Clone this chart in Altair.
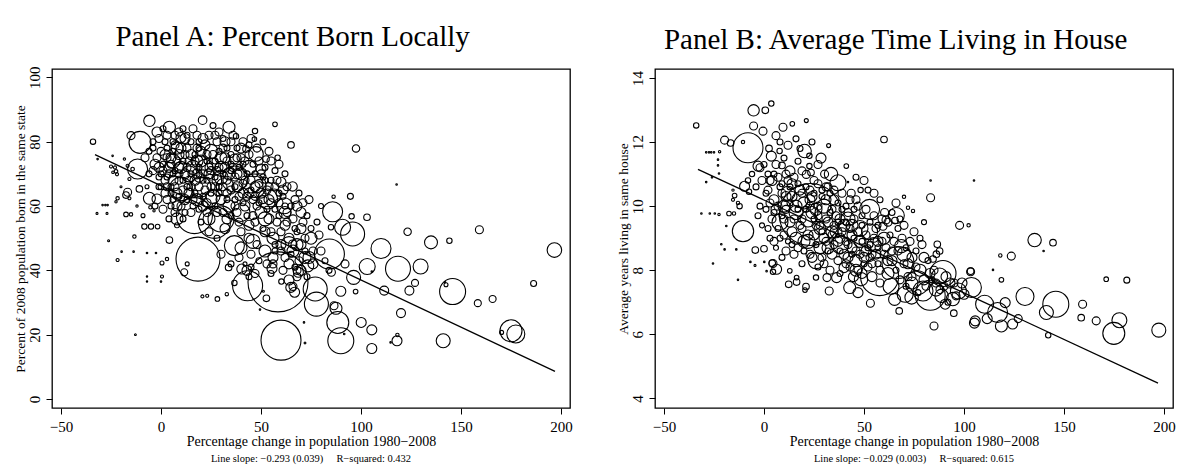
import altair as alt
import pandas as pd

# ---- Panel A: share of 2008 population born in the same state ----
growth_a = [
    -34, -32, -27, -29.2, -27.8, -26.7, -26.2, -21.7, -19.7, -13.7,
    -7, -2.5, -13.3, -31.7, -24.2, -25, -23, -22.5, -24, -22,
    -17.5, -21.7, -22.5, -15.8, -18.3, -16.7, -14.2, -15.8, -17.5, -15,
    -8.3, -5, -1.7, 4.2, 3, -5.3, -3.5, -10.8, -16.7, -12.8,
    -7, -7, 0, 0.5, 0.5, 11.6, 13.1, -20, -12, -9,
    -11.7, -10.5, -5.8, 4.2, 10, -15, -2, -2, -5.8, -8,
    -6, -3, 0, 2, 5, 8, 12, 15, 18, 20.8,
    22, 25, 28, 30, 33, 34, 37.5, 42.5, 47.5, 40,
    47, 46.7, 57, 58.3, 65, 65.8, 36.7, 52.5, 50, 60,
    56.7, 53.3, 61.7, 46.7, 36.7, 10, 16.7, 30, 36.7, 18.5,
    26.7, 0, 2, 4, 6, 8, 10, 12, 14, 16,
    18, 20, 22, 24, 26, 28, 30, 32, 34, 36,
    38, 40, 42, 44, 46, 48, 50, 52, 54, 2,
    6, 10, 14, 18, 22, 26, 30, 34, 38, 42,
    46, 50, 54, 58, 62, 66, 70, 72, 68, 64,
    60, 4, 8, 12, 20, 24, 28, 32, 40, 44,
    48, 52, 56, 60, 64, 68, 72, 76, 80, 84,
    43, 45, 47, 44, 42, 55, 56, 64, 66, 67,
    70, 68, 5, 9, 13, 17, 21, 25, 29, 33,
    37, 41, 15, 19, 23, 27, 31, 35, 7, 11,
    3, -4, -7, -1, 8, 16, 58.5, 60, 20.7, 23.1,
    28.2, 32.9, 33.8, 36.7, 43.3, 40.4, 55.5, 51.2, 52.7, 49.5,
    60.2, 64.9, 66.8, 68.7, 73.4, 71.5, 72, 77.1, 77.7, 85.2,
    86.5, 87.5, 88.4, 89.9, 89.9, 91.6, 96.3, 97.3, 100.1, 103.1,
    105.4, 105.4, 105.4, 111.6, 114.8, 118, 118.2, 118.5, 120, 124.2,
    127, 129.8, 141.1, 142, 142.5, 145.8, 158.4, 165.8, 170.3, 175,
    177.4, 186.3, 97.5, 117.8, 86.3, 94.7, 95.3, 103, 85.8, 90.8,
    95.8, 85, 123.3, 135, 144.2, 159.2, 196.7, 110, 84.2, 65.8,
    62, 70, 74, 68, 75, 78, 80, 72, 62, 57,
    92,
]
born_a = [
    80, 57.7, 57.7, 60.3, 60.3, 60.3, 49.2, 43.2, 45.8, 45.8,
    45.4, 45.4, 50.5, 74.6, 75.6, 72.3, 72, 70.8, 70.5, 69.9,
    63.4, 62.4, 61.3, 62.4, 74.6, 72.5, 71.5, 68.4, 57.4, 57.4,
    53.6, 53.6, 53.6, 49.4, 43.5, 59.6, 58.5, 65.3, 64.3, 20,
    38.1, 36.5, 36.5, 38.1, 42.3, 39.4, 42, 66, 60, 57,
    71.5, 79.8, 86.5, 84.5, 81.3, 81.9, 83, 62.2, 62.4, 75,
    70, 73, 77, 80, 75, 78, 76, 80, 82, 86.7,
    79, 77, 80, 75, 78, 84.5, 81.7, 77.7, 76.2, 75,
    83.3, 80.8, 85.4, 75, 79, 66.1, 74.6, 74.6, 71.5, 67.4,
    63.2, 62.2, 60.1, 66.3, 68.4, 65.3, 57, 56, 47.7, 43.5,
    54.9, 70, 68, 72, 70, 74, 72, 70, 74, 72,
    70, 74, 72, 70, 73, 71, 69, 72, 70, 72,
    66, 70, 68, 64, 62, 66, 64, 68, 66, 64,
    62, 60, 64, 62, 65, 63, 62, 60, 58, 60,
    57, 58, 56, 55, 54, 56, 53, 50, 48, 50,
    52, 56, 54, 58, 55, 52, 50, 53, 52, 50,
    48, 46, 44, 46, 42, 40, 44, 42, 46, 40,
    40, 41, 39, 38, 42, 39, 42, 37, 35, 41,
    40, 38, 66, 68, 66, 68, 68, 66, 66, 64,
    62, 64, 76, 78, 76, 74, 78, 76, 82, 84,
    78, 78, 66, 66, 60, 60, 36.4, 18.3, 31.9, 32.1,
    31.1, 32.6, 40.9, 36.1, 35.2, 40.4, 40.6, 33.5, 31.3, 27.8,
    36.5, 34.7, 33.2, 39.4, 41.4, 23.8, 17.4, 34.2, 29.5, 39.4,
    29, 28.2, 23.8, 18.1, 33.5, 20.2, 37.8, 33.4, 23.8, 41.2,
    21.5, 15.7, 39.6, 33.7, 17.6, 18.1, 19.9, 40.5, 26.7, 33.7,
    36.1, 41.2, 18.1, 36.3, 35.5, 33.4, 29.8, 31.1, 20.7, 21.2,
    20.2, 35.9, 77.9, 66.7, 62.9, 63, 56.8, 56.5, 58.2, 53.4,
    51.3, 53.4, 52, 48.7, 49.2, 52.6, 46.3, 46.8, 45.1, 48.2,
    60, 58, 62, 52, 50, 55, 60, 46, 44, 48,
    42,
]
# 2008 population weight (marker area is proportional to it)
pop_a = [
    7.3, 1, 1, 0.6, 0.6, 0.6, 1, 2.3, 0.6, 0.6,
    0.6, 0.6, 2.9, 0.6, 0.6, 2.3, 2.3, 3.2, 1.7, 2.3,
    10.9, 2.9, 1.4, 2.3, 1.4, 2.3, 3.2, 2.3, 5.3, 2.9,
    7.3, 7.3, 5.3, 10.9, 2.9, 2.9, 1.4, 10.9, 16, 0.8,
    0.5, 0.5, 0.6, 2.3, 4, 12.3, 4, 1, 1.4, 4,
    100, 121, 32.5, 36, 25, 16, 25, 25, 36, 16,
    9, 25, 16, 9, 25, 36, 16, 9, 16, 18.5,
    25, 49, 16, 36, 9, 36, 7.3, 10.9, 53.3, 16,
    7.3, 5.3, 5.3, 7.3, 10.9, 22, 25, 10.9, 25, 25,
    45, 100, 64, 137, 169, 137, 324, 169, 100, 484,
    256, 9, 16, 25, 9, 16, 36, 25, 16, 49,
    25, 36, 64, 25, 36, 16, 49, 25, 36, 16,
    25, 36, 16, 25, 16, 36, 25, 9, 16, 16,
    9, 16, 25, 36, 16, 49, 25, 36, 16, 25,
    16, 36, 25, 16, 25, 16, 25, 16, 36, 25,
    16, 9, 6.3, 9, 9, 16, 9, 25, 16, 25,
    16, 36, 25, 16, 25, 16, 36, 25, 16, 9,
    25, 9, 16, 9, 4, 9, 16, 25, 16, 9,
    25, 16, 9, 16, 9, 25, 9, 16, 9, 16,
    9, 25, 25, 9, 16, 9, 16, 9, 16, 9,
    9, 9, 4, 9, 25, 9, 900, 400, 2.3, 2.3,
    5.3, 2.9, 10.9, 7.3, 225, 25, 25, 1, 10.9, 0.6,
    7.3, 25, 25, 25, 36, 0.6, 0.8, 144, 144, 16,
    16, 36, 121, 169, 25, 0.6, 49, 5.3, 25, 64,
    25, 25, 0.6, 20, 0.6, 25, 2.9, 156, 20, 20,
    12.3, 56, 49, 0.6, 4, 169, 12.3, 12.3, 4, 121,
    81, 9, 13.7, 0.6, 2.9, 9, 7.3, 10.9, 100, 64,
    144, 7.3, 13.7, 42, 7.3, 16, 53, 100, 225, 16,
    9, 25, 16, 9, 36, 9, 6.3, 9, 16, 9,
    16,
]
# Counties in the crowded core of panel A
growth_a_core = [
    -4, -1, 1, 3, 6, 9, 13, 16, 19, 24,
    26, 29, 31, 35, 38, 41, 44, 48, 51, 54,
    -6, -2, 1, 3, 6, 9, 11, 13, 17, 20,
    23, 26, 29, 32, 35, 38, 41, 44, 46, 49,
    52, 55, 57, 59, 62, -4, -1, 1, 3, 5,
    7, 9, 11, 13, 15, 17, 19, 21, 23, 25,
    27, 29, 31, 33, 35, 37, 39, 41, 43, 45,
    47, 49, 51, 53, 55, 57, 59, 63, 0, 3,
    5, 7, 9, 11, 13, 15, 17, 19, 21, 23,
    25, 27, 29, 31, 33, 35, 37, 39, 41, 43,
    45, 47, 49, 51, 53, 55, 57, 59, 61, 63,
    65, 67, 69, 71, 73, -3, 1, 5, 7, 11,
    15, 19, 23, 27, 31, 35, 39, 43, 47, 51,
    55, 59, 63, 67, 71, 75, 79, 45, 49, 53,
    57, 61, 65, 69, 73, 76, 82, 39, 35, 30,
    14, 32, 44, 6, 24, 52, 40, 8, 64, 20,
    2, 7, 12, 18, 21, 27, 32, 36, 40, 45,
    -1, 4, 9, 14, 19, 24, 28, 33, 38, 42,
    47, 50, 54, 58, 61, 3, 8, 16, 21, 28,
    33, 37, 44, 48, 52, 56, 60, 66, 70, 74,
    46, 40, 62, 68, 24, 12, 6, 30, 18, 10,
]
born_a_core = [
    80, 81, 84, 82, 80, 83, 82, 84, 80, 82,
    85, 83, 81, 80, 78, 80, 79, 78, 80, 77,
    77, 75, 73, 75, 77, 76, 74, 78, 76, 77,
    74, 76, 77, 75, 73, 75, 73, 76, 73, 74,
    72, 74, 71, 73, 70, 71, 69, 71, 69, 73,
    71, 70, 68, 72, 70, 74, 72, 70, 68, 71,
    69, 72, 70, 68, 71, 69, 72, 67, 70, 68,
    70, 67, 69, 65, 68, 66, 64, 66, 66, 62,
    64, 66, 63, 65, 62, 66, 64, 66, 63, 61,
    64, 66, 64, 66, 62, 65, 66, 63, 61, 63,
    65, 63, 61, 62, 59, 61, 59, 61, 63, 58,
    60, 62, 64, 61, 57, 60, 59, 60, 58, 56,
    58, 59, 58, 60, 58, 57, 55, 57, 55, 53,
    52, 57, 55, 53, 55, 53, 51, 45, 43, 42,
    46, 40, 45, 43, 38, 46, 43, 44, 42, 45,
    70, 66, 72, 74, 62, 56, 58, 56, 48, 66,
    76, 79, 81, 78, 81, 82, 80, 82, 78, 81,
    72, 70, 72, 68, 69, 72, 68, 74, 70, 74,
    66, 70, 62, 68, 65, 66, 64, 62, 60, 58,
    56, 60, 54, 60, 52, 50, 48, 46, 48, 44,
    49, 47, 58, 60, 56, 62, 68, 72, 74, 78,
]
pop_a_core = [
    9, 16, 9, 16, 9, 16, 9, 16, 9, 16,
    9, 16, 9, 16, 9, 16, 9, 16, 9, 16,
    9, 16, 9, 16, 9, 25, 9, 16, 9, 25,
    9, 16, 9, 25, 9, 16, 9, 16, 9, 16,
    9, 16, 9, 16, 9, 16, 9, 16, 9, 16,
    9, 16, 9, 16, 9, 16, 9, 16, 9, 16,
    9, 16, 9, 16, 9, 16, 9, 16, 9, 16,
    9, 16, 9, 16, 9, 16, 9, 16, 9, 16,
    9, 16, 9, 16, 9, 16, 9, 16, 9, 16,
    9, 16, 9, 16, 9, 16, 9, 16, 9, 16,
    9, 16, 9, 16, 9, 16, 9, 16, 9, 16,
    9, 16, 9, 16, 9, 9, 16, 9, 16, 9,
    16, 9, 16, 9, 16, 9, 16, 9, 16, 9,
    16, 9, 16, 9, 16, 9, 16, 16, 9, 16,
    9, 16, 9, 16, 9, 16, 9, 16, 9, 16,
    64, 81, 49, 49, 64, 49, 81, 36, 64, 100,
    25, 16, 25, 16, 25, 16, 25, 16, 25, 16,
    25, 16, 25, 16, 25, 16, 25, 16, 25, 16,
    25, 16, 25, 16, 25, 16, 25, 16, 25, 16,
    25, 16, 25, 16, 25, 36, 25, 36, 25, 36,
    49, 36, 36, 25, 36, 25, 25, 36, 36, 25,
]

# ---- Panel B: average years living in the same house ----
growth_b = [
    -33.9, -5.2, 0.65, 3.65, -5.2, 9.5, 14.15, 21.15, -0.5, -19.7,
    -16.7, -10.5, -8, -28.9, -27.5, -26.4, -25, -22.2, -23, -23,
    -22.5, -26, -28.9, -31.3, -27.1, -24.6, -22.5, -17.5, -15, -10.5,
    -14.7, -13, -15.5, -15.5, -18.85, -21.35, -19.7, -13.85, -25.5, -6.8,
    -4.5, 0.15, 1.3, -13, 4.1, 4.5, 6.3, -4.35, 0, 4.5,
    -9.7, -8, -7.5, -12.2, -3, -6, 2.5, 3.65, 7.8, 9,
    20.3, 22.7, 22.7, 23.5, 23.15, 21.15, 27, 30.3, 32, 32.3,
    33.5, 37, 41.15, 42, 48.3, 43.6, 46, 52.8, 52.8, 60,
    83.3, 105, 70, 83.3, 72, 74.5, 66.15, 65.5, 97.8, 102.3,
    60.3, 61, 59.5, 135.3, 144.5, 139.8, 86.65, 87.8, 86.2, 84.5,
    89.5, 68.65, 67, 118.15, 123.65, 114.5, 103.3, 12.35, 16.3, 16.3,
    12.9, 21, 20.5, 26, 32.6, 31.5, 36.3, 40, 42.85, 44.7,
    47, 53.2, 48.5, 57.8, 63.5, 65.3, 67.6, 70.6, 73.8, 76.6,
    79.5, 83.1, 85, 87.8, 86, 88.8, 90.6, 94.9, 94.4, 97.2,
    100, 103.3, 103.7, 105.6, 105.2, 110.3, 111.6, 116.8, 118.7, 118.7,
    120.6, 124.3, 127.1, 130.5, 141.2, 142.1, 145.9, 159.3, 158.6, 166.1,
    171.1, 177.7, 174.9, 181.4, 197.4, 2, 5, 8, 10, 12,
    14, 16, 18, 20, 22, 24, 26, 28, 30, 32,
    34, 36, 38, 40, 42, 44, 46, 48, 50, 52,
    54, 4, 7, 10, 13, 16, 19, 22, 25, 28,
    31, 34, 37, 40, 43, 46, 49, 52, 56, 58,
    62, 64, 60, 56, 2, 6, 10, 13, 17, 25,
    29, 35, 39, 45, 49, 1, -2, -1, 3, 6,
    9, 12, 15, 19, 24, 27, 33, 38, 70, 74,
    78, 72, 80, 90, 93, 75, 78, 80, 11, 28.5,
]
years_b = [
    12.52, 12.99, 12.99, 13.2, 12.5, 12.46, 12.57, 12.67, 12.34, 12.06,
    11.97, 12.0, 11.82, 11.68, 11.68, 11.68, 11.68, 11.7, 11.45, 11.27,
    11.02, 10.9, 10.75, 9.77, 9.77, 9.77, 9.74, 9.77, 9.77, 9.22,
    10.33, 10.1, 10.2, 10.5, 9.38, 8.81, 8.65, 8.65, 8.21, 8.26,
    8.15, 8.26, 7.97, 7.7, 8.22, 7.95, 8.03, 8.63, 8.67, 8.21,
    10.62, 10.8, 10.45, 10.0, 11.25, 11.0, 11.8, 11.56, 11.72, 11.27,
    11.72, 11.57, 11.25, 11.05, 9.74, 10.99, 11.3, 11.0, 10.6, 11.89,
    11.0, 10.73, 11.25, 10.75, 10.5, 10.4, 10.2, 9.9, 9.2, 12.08,
    10.8, 10.8, 10.29, 10.26, 9.95, 9.85, 9.71, 9.55, 9.4, 9.4,
    9.8, 9.57, 9.37, 8.94, 8.86, 8.6, 8.81, 8.6, 8.5, 8.35,
    7.9, 8.75, 8.24, 8.46, 8.44, 8.01, 7.97, 7.56, 7.63, 7.77,
    7.98, 7.49, 7.38, 7.77, 7.35, 7.77, 7.77, 8.08, 7.46, 7.8,
    7.3, 6.97, 7.72, 7.8, 7.5, 7.09, 6.73, 7.25, 7.15, 7.61,
    7.35, 7.22, 6.26, 7.82, 7.4, 7.2, 6.94, 6.66, 7.1, 7.35,
    7.25, 7.95, 7.46, 6.42, 6.35, 6.94, 6.49, 6.68, 6.26, 7.7,
    6.99, 6.32, 6.49, 7.18, 6.68, 5.97, 6.94, 6.94, 6.52, 6.42,
    7.72, 6.44, 6.03, 7.69, 6.13, 10.5, 10.2, 10.6, 10.0, 10.8,
    10.3, 9.8, 10.5, 10.1, 9.6, 10.3, 9.9, 9.4, 10.0, 9.5,
    9.2, 9.7, 9.0, 9.4, 8.8, 9.1, 8.6, 8.9, 8.4, 8.7,
    8.2, 9.6, 9.3, 9.1, 9.5, 9.0, 9.3, 8.9, 9.1, 8.7,
    8.9, 8.5, 8.3, 8.5, 8.1, 8.3, 7.9, 8.1, 8.5, 8.0,
    8.3, 8.6, 9.0, 9.3, 11.0, 11.3, 11.5, 11.1, 11.4, 10.8,
    10.5, 10.2, 9.9, 9.6, 9.4, 9.9, 10.0, 9.4, 9.0, 8.7,
    8.4, 8.9, 8.5, 8.2, 8.4, 8.1, 8.0, 7.9, 8.2, 8.4,
    8.0, 7.8, 7.7, 7.5, 7.6, 9.2, 9.0, 9.5, 10.3, 11.5,
]
pop_b = [
    7.3, 32.5, 10.9, 7.3, 16, 16, 5.3, 4, 16, 16,
    10.9, 2.9, 225, 0.6, 0.6, 0.6, 0.6, 1.4, 0.6, 0.6,
    0.6, 0.6, 0.6, 0.6, 0.6, 0.6, 1.4, 5.3, 2.9, 114,
    5.3, 2.9, 2.3, 1.4, 0.6, 0.6, 0.6, 0.6, 0.6, 0.6,
    1, 0.6, 0.6, 0.6, 10.9, 7.3, 25, 10.9, 10.9, 16,
    25, 7.3, 7.3, 7.3, 25, 7.3, 10.9, 25, 7.3, 10.9,
    45, 7.3, 7.3, 10.9, 961, 16, 16, 16, 16, 4,
    45, 64, 5.3, 0.6, 7.3, 16, 16, 100, 64, 10.9,
    0.6, 0.6, 2.9, 16, 2.9, 2.9, 64, 10.9, 16, 2.9,
    16, 16, 16, 45, 10.9, 0.6, 10.9, 10.9, 10.9, 10.9,
    169, 45, 256, 2.9, 16, 0.6, 10.9, 10.9, 10.9, 5.3,
    5.3, 10.9, 5.3, 7.3, 16, 16, 25, 25, 36, 25,
    25, 16, 45, 361, 64, 36, 10.9, 64, 45, 144,
    100, 225, 16, 64, 45, 45, 25, 10.9, 45, 64,
    25, 16, 100, 25, 25, 81, 25, 100, 36, 5.3,
    25, 25, 16, 81, 49, 7.3, 169, 16, 10.9, 16,
    5.3, 56, 121, 9, 49, 16, 25, 9, 36, 16,
    25, 49, 25, 36, 64, 25, 36, 16, 49, 25,
    36, 16, 25, 36, 16, 25, 16, 36, 25, 9,
    16, 16, 9, 16, 25, 36, 16, 49, 25, 36,
    16, 25, 16, 25, 16, 36, 25, 16, 25, 16,
    25, 16, 36, 16, 9, 16, 9, 25, 9, 16,
    9, 25, 9, 16, 9, 9, 9, 6.3, 9, 6.3,
    9, 6.3, 16, 9, 25, 9, 16, 9, 16, 25,
    36, 16, 25, 16, 25, 16, 9, 6.3, 25, 25,
]
# Counties in the crowded core of panel B
growth_b_core = [
    0, 3, 5, 7, 9, 11, 13, 15, 17, 19,
    21, 23, 25, 27, 29, 31, 33, 35, 37, 39,
    41, 43, 45, 47, 49, 51, 53, 55, 57, 59,
    1, 3, 5, 7, 9, 11, 13, 15, 17, 19,
    21, 23, 25, 27, 29, 31, 33, 35, 37, 39,
    41, 43, 45, 47, 49, 51, 53, 55, 57, 59,
    2, 5, 8, 11, 14, 17, 20, 23, 26, 29,
    32, 35, 38, 41, 44, 47, 50, 53, 57, 61,
    63, 65, 67, 69, 71, 73, 76, 79, 82, 85,
    66, 68, 71, 74, 77, 81, 84, 88, 92, 95,
    62, 64, 66, 68, 70, 58, 55, 52, 50, 46,
    8, 12, 16, 6, 18, 24, -2, -4, -1, -3,
    8, 30, 42, 18, 38, 55, 26, 12, 48, 70,
    4, 9, 14, 19, 23, 27, 31, 34, 38, 42,
    6, 10, 14, 18, 22, 26, 30, 34, 37, 41,
    44, 48, 51, 54, 57, 60, 64, 67, 72, 76,
    20, 28, 36, 44, 16, 24, 32, 46, 54, 62,
    83, 86, 91, 96, 99, 74, 80, 58, 42, 30,
]
years_b_core = [
    11.3, 10.8, 11.0, 10.9, 10.7, 11.0, 10.6, 10.9, 10.7, 11.1,
    10.6, 10.5, 10.4, 10.7, 10.3, 10.6, 10.4, 10.5, 10.1, 10.4,
    10.0, 10.2, 9.9, 10.0, 9.7, 9.9, 9.5, 9.7, 9.4, 9.6,
    10.4, 10.1, 9.8, 10.0, 9.7, 9.9, 10.1, 9.6, 9.9, 9.6,
    9.9, 10.0, 9.6, 9.7, 9.2, 9.6, 9.8, 9.4, 9.5, 9.2,
    9.5, 9.3, 9.0, 9.2, 8.9, 9.1, 8.8, 9.0, 8.7, 8.9,
    9.3, 8.9, 9.0, 8.6, 8.8, 8.7, 8.6, 8.5, 8.8, 8.4,
    8.6, 8.8, 8.6, 8.2, 8.5, 8.0, 8.2, 8.4, 8.2, 8.7,
    9.1, 8.9, 9.3, 9.0, 8.7, 8.9, 8.6, 8.8, 8.3, 8.0,
    8.0, 7.7, 7.5, 7.8, 7.3, 7.5, 7.7, 7.4, 7.0, 7.6,
    9.5, 9.8, 10.1, 9.6, 9.4, 10.2, 10.4, 10.5, 10.8, 10.9,
    12.0, 11.9, 12.1, 12.2, 11.8, 12.0, 11.2, 10.6, 10.8, 9.7,
    9.5, 9.8, 9.6, 10.2, 8.8, 8.8, 8.3, 10.4, 9.3, 8.5,
    10.8, 10.4, 10.7, 10.4, 10.2, 10.0, 10.2, 9.9, 9.6, 9.8,
    9.9, 9.6, 9.2, 9.4, 9.1, 9.4, 9.0, 9.1, 8.9, 8.9,
    8.7, 8.5, 8.6, 8.5, 8.9, 8.5, 8.3, 8.6, 8.2, 8.1,
    8.9, 9.3, 9.2, 9.4, 10.0, 9.8, 8.7, 8.0, 7.8, 7.9,
    7.9, 7.6, 7.8, 7.2, 7.6, 7.6, 8.4, 7.6, 8.4, 8.2,
]
pop_b_core = [
    9, 16, 9, 16, 9, 16, 9, 16, 9, 16,
    9, 16, 9, 16, 9, 16, 9, 16, 9, 16,
    9, 16, 9, 16, 9, 16, 9, 16, 9, 16,
    9, 16, 9, 16, 9, 16, 9, 16, 9, 16,
    9, 16, 9, 16, 9, 16, 9, 16, 9, 16,
    9, 16, 9, 16, 9, 16, 9, 16, 9, 16,
    9, 16, 9, 16, 9, 16, 9, 16, 9, 16,
    9, 16, 9, 16, 9, 16, 9, 16, 9, 16,
    9, 16, 9, 16, 9, 16, 9, 16, 9, 16,
    9, 16, 9, 16, 9, 16, 9, 16, 9, 16,
    16, 9, 16, 9, 16, 9, 16, 9, 16, 9,
    9, 16, 9, 16, 9, 9, 16, 9, 16, 9,
    64, 81, 49, 64, 81, 49, 64, 49, 64, 49,
    25, 16, 25, 16, 25, 16, 25, 16, 25, 16,
    25, 16, 25, 16, 25, 16, 25, 16, 25, 16,
    25, 16, 25, 16, 25, 16, 25, 16, 25, 16,
    36, 36, 36, 36, 36, 36, 36, 36, 25, 36,
    25, 16, 25, 16, 25, 36, 25, 16, 25, 16,
]

assert len(growth_a) == len(born_a) == len(pop_a)
assert len(growth_a_core) == len(born_a_core) == len(pop_a_core)
assert len(growth_b) == len(years_b) == len(pop_b)
assert len(growth_b_core) == len(years_b_core) == len(pop_b_core)

# Weighted least-squares fits: (intercept, slope)
fit_a = (66.3, -0.293)
fit_b = (10.19, -0.029)
fit_span = [-33, 197]

x_ticks = [-50, 0, 50, 100, 150, 200]
y_ticks_a = [0, 20, 40, 60, 80, 100]
y_ticks_b = [4, 6, 8, 10, 12, 14]

SERIF = "Liberation Serif"
PLOT_W, PLOT_H = 518, 339
X_TITLE = "Percentage change in population 1980\u22122008"
GAP = "\u00a0" * 5


def panel(growth, value, pop, fit, y_domain, y_ticks, y_title, title, note):
    points = pd.DataFrame({"growth": growth, "value": value, "pop": pop})
    fit_df = pd.DataFrame({"growth": fit_span,
                           "value": [fit[0] + fit[1] * g for g in fit_span]})
    x_enc = alt.X("growth:Q",
                  scale=alt.Scale(domain=[-54.5, 204.5], nice=False, zero=False),
                  axis=alt.Axis(values=x_ticks, title=X_TITLE, labelFlush=False,
                                labelPadding=5, titlePadding=0))
    y_enc = alt.Y("value:Q",
                  scale=alt.Scale(domain=y_domain, nice=False, zero=False),
                  axis=alt.Axis(values=y_ticks, title=y_title, labelFlush=False,
                                labelAngle=270, labelAlign="center",
                                labelBaseline="middle", labelPadding=12,
                                titlePadding=0, titleFontSize=13.5))
    dots = alt.Chart(points).mark_point(
        shape="circle", filled=False, color="black", strokeWidth=1.1, opacity=1
    ).encode(
        x=x_enc, y=y_enc,
        size=alt.Size("pop:Q", scale=alt.Scale(domain=[0, 1000], range=[0, 4000]),
                      legend=None),
    )
    line = alt.Chart(fit_df).mark_line(color="black", strokeWidth=1.3).encode(
        x=x_enc, y=y_enc
    )
    caption = alt.Chart(pd.DataFrame({"note": [note]})).mark_text(
        font=SERIF, fontSize=10.5, color="black"
    ).encode(text="note:N", x=alt.value(PLOT_W / 2), y=alt.value(PLOT_H + 51))
    return alt.layer(dots, line, caption).properties(
        width=PLOT_W, height=PLOT_H,
        title=alt.TitleParams(title, font=SERIF, fontSize=29, fontWeight="normal",
                              color="black", anchor="middle", frame="bounds",
                              offset=14),
    )


panel_a = panel(growth_a + growth_a_core, born_a + born_a_core, pop_a + pop_a_core,
                fit_a, [-2.8, 102.6], y_ticks_a,
                "Percent of 2008 population born in the same state",
                "Panel A: Percent Born Locally",
                f"Line slope: \u22120.293 (0.039){GAP}R\u2212squared: 0.432")
panel_b = panel(growth_b + growth_b_core, years_b + years_b_core, pop_b + pop_b_core,
                fit_b, [3.7, 14.28], y_ticks_b,
                "Average years living in same house",
                "Panel B: Average Time Living in House",
                f"Line slope: \u22120.029 (0.003){GAP}R\u2212squared: 0.615")

chart = alt.hconcat(panel_a, panel_b, spacing=42).properties(
    padding={"left": 12, "top": 22, "right": 0, "bottom": 0},
    background="white",
).configure_view(
    stroke="black", strokeWidth=1.3
).configure_axis(
    grid=False, domain=False, tickColor="black", tickSize=6, tickWidth=1,
    labelFont=SERIF, labelFontSize=15, labelColor="black",
    titleFont=SERIF, titleFontSize=14, titleFontWeight="normal", titleColor="black",
)

chart.save("out.html", embed_options={"renderer": "svg", "actions": False})
